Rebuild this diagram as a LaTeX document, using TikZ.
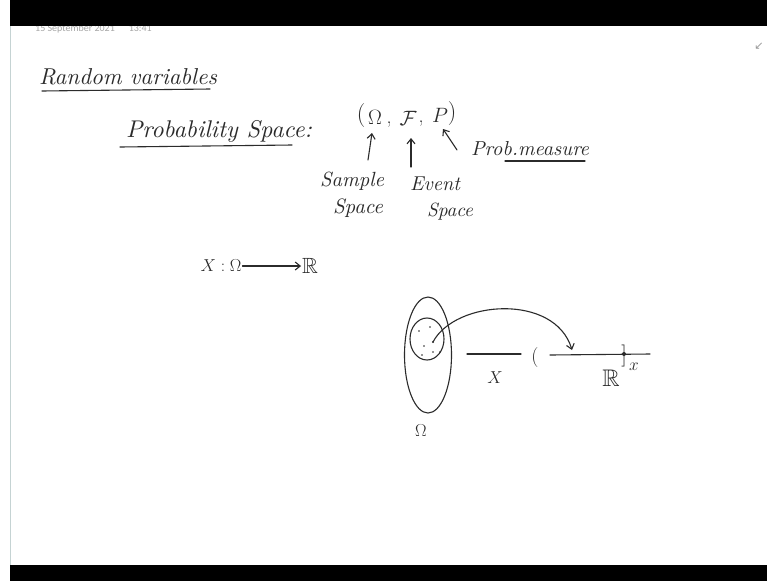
\documentclass[tikz,border=0pt]{standalone}
\usepackage{fontspec}
\usepackage{amssymb}
\usepackage{graphicx}
\usetikzlibrary{arrows.meta,shapes.geometric}
\newfontfamily\datefont{Carlito}
\newfontfamily\symfont{DejaVu Sans}
\definecolor{ink}{HTML}{2B2B2B}
\definecolor{edge}{HTML}{C5D3D3}
\tikzset{
  hw/.style={inner sep=0pt, outer sep=1pt, text=ink, font=\itshape},
  pen/.style={draw=ink, line width=1.1pt, line cap=round, line join=round},
  hwarrow/.style={pen, -{Straight Barb[length=5pt,width=8pt,line width=1.1pt]}},
  blob/.style={pen, ellipse, inner sep=0pt},
}
\newcommand{\fitw}[2]{\resizebox{#1}{!}{#2}}
\begin{document}
\begin{tikzpicture}[x=1pt,y=-1pt]
\useasboundingbox (0,0) rectangle (767,581);
\fill[white] (0,0) rectangle (767,581);
% date header (partly hidden by bar)
\node[anchor=base west, inner sep=0pt, text=gray!70, font=\datefont\fontsize{10}{11}\selectfont] (date) at (35,31) {15 September 2021\hspace{14pt}13:41};
\fill[black] (10,0) rectangle (767,26);
\fill[black] (10,565) rectangle (767,581);
\draw[edge, line width=0.8pt] (10,26) -- (10,565);
\node[inner sep=0pt, text=gray!80, font=\symfont\fontsize{11}{11}\selectfont] (corner) at (759,46) {↙};
% title
\node[hw, anchor=base west] (rv) at (38,84) {\fitw{178pt}{Random variables}};
\coordinate (rvu1) at (42,91);
\coordinate (rvu2) at (210,89);
\draw[pen] (rvu1) -- (rvu2);
% probability space
\node[hw, anchor=base west] (ps) at (125,137) {\fitw{186pt}{Probability Space:}};
\coordinate (psu1) at (120,147);
\coordinate (psu2) at (292,145);
\draw[pen] (psu1) -- (psu2);
% triple
\node[hw, font=\fontsize{24}{24}\selectfont] (lp) at (361,116) {(};
\node[hw, font=\fontsize{20}{20}\selectfont] (om) at (375,117) {$\Omega$};
\node[hw, font=\fontsize{20}{20}\selectfont] (c1) at (389,125) {,};
\node[hw, font=\fontsize{20}{20}\selectfont] (ff) at (408,118) {$\mathcal{F}$};
\node[hw, font=\fontsize{20}{20}\selectfont] (c2) at (421,124) {,};
\node[hw, font=\fontsize{20}{20}\selectfont] (pp) at (440,115) {$P$};
\node[hw, font=\fontsize{24}{24}\selectfont] (rp) at (452,114) {)};
% labels
\node[hw] (sam1) at (352,181) {\fitw{64pt}{Sample}};
\node[hw] (sam2) at (358,208) {\fitw{50pt}{Space}};
\node[hw] (ev1) at (435,184) {\fitw{50pt}{Event}};
\node[hw] (ev2) at (450,212) {\fitw{46pt}{Space}};
\node[hw, anchor=base west] (prob) at (470,155) {\fitw{118pt}{Prob.measure}};
\coordinate (pmu1) at (505,161);
\coordinate (pmu2) at (585,161);
\draw[pen] (pmu1) -- (pmu2);
\coordinate (a1) at (368,160);
\coordinate (a1e) at (372,133);
\coordinate (a2) at (411,167);
\coordinate (a2e) at (411,138);
\coordinate (a3) at (457,150);
\coordinate (a3e) at (443,129);
\draw[hwarrow] (a1) -- (a1e);
\draw[hwarrow] (a2) -- (a2e);
\draw[hwarrow] (a3) -- (a3e);
% X : Omega -> R
\node[hw, font=\fontsize{18}{18}\selectfont] (xmap) at (221,266) {$X:\Omega$};
\node[hw, font=\fontsize{22}{22}\selectfont] (rr) at (310,266) {$\mathbb{R}$};
\draw[hwarrow] (xmap.east) -- (rr.west);
% diagram
\node[blob, minimum width=47pt, minimum height=116pt] (outer) at (428,355) {};
\node[blob, minimum width=34pt, minimum height=42pt] (inner) at (427,339) {};
\coordinate (src) at (433,342);
\fill[ink] (src) circle (1.2pt);
\foreach \px/\py in {419/331, 430/327, 424/346, 422/355, 433/352, 440/352}
  \fill[ink] (\px,\py) circle (0.9pt);
\node[hw, font=\fontsize{18}{18}\selectfont] (omlab) at (421,431) {$\Omega$};
\coordinate (l1) at (467,354);
\coordinate (l2) at (521,354);
\draw[pen] (l1) -- (l2);
\node[hw, font=\fontsize{16}{16}\selectfont] (xlab) at (495,378) {$X$};
\node[hw, font=\fontsize{20}{20}\selectfont] (lparen) at (535,358) {(};
\coordinate (r1) at (550,355);
\coordinate (r2) at (650,354);
\draw[pen] (r1) -- (r2);
\coordinate (tgt) at (572,350);
\draw[hwarrow] (src) .. controls (455,300) and (555,293) .. (tgt);
\node[hw, font=\fontsize{22}{22}\selectfont] (rbr) at (624,356) {]};
\fill[ink] (624,354) circle (2pt);
\node[hw, font=\fontsize{16}{16}\selectfont] (xpt) at (634,367) {$x$};
\node[hw, font=\fontsize{24}{24}\selectfont] (rlab) at (611,378) {$\mathbb{R}$};
\end{tikzpicture}
\end{document}
